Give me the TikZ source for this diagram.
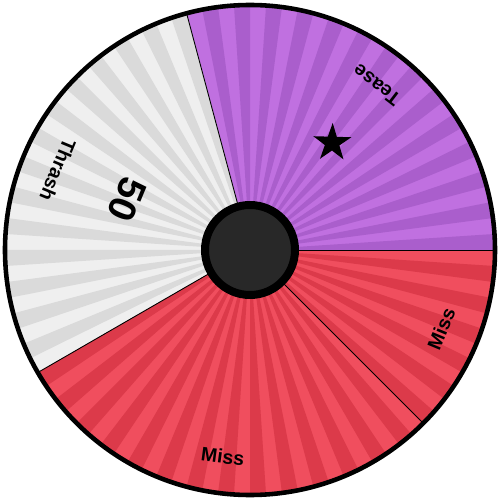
\documentclass[tikz,border=0pt]{standalone}
\usepackage{fontspec}
\setmainfont{Liberation Sans}
\usetikzlibrary{shapes.geometric}
\definecolor{purpL}{HTML}{C070E0}
\definecolor{purpD}{HTML}{AA5ECC}
\definecolor{redL}{HTML}{F04E5E}
\definecolor{redD}{HTML}{DC3A4A}
\definecolor{greyL}{HTML}{EFEFEF}
\definecolor{greyD}{HTML}{DADADA}
\definecolor{hubgrey}{HTML}{282828}
\begin{document}
\begin{tikzpicture}[x=0.02cm,y=0.02cm,
  lab/.style={font=\fontsize{11.1pt}{13pt}\selectfont\bfseries, inner sep=0pt, text=black},
  bignum/.style={font=\fontsize{22pt}{26pt}\selectfont\bfseries, inner sep=0pt, text=black},
  starnode/.style={star, star points=5, star point ratio=2.618, fill=black, inner sep=0pt, minimum size=0.8cm},
  divider/.style={line width=0.5pt, black}]
\fill[white] (-250,-250) rectangle (250,250);
\useasboundingbox (-250,-250) rectangle (250,250);
\def\R{245}
% sector base fills
\fill[purpL] (0,0) -- (0:\R) arc[start angle=0, end angle=105, radius=\R] -- cycle;
\fill[greyL] (0,0) -- (105:\R) arc[start angle=105, end angle=210, radius=\R] -- cycle;
\fill[redL] (0,0) -- (210:\R) arc[start angle=210, end angle=360, radius=\R] -- cycle;
% dark stripes
\foreach \k in {0,2,...,26}
  \fill[purpD] (0,0) -- ({\k*3.75}:\R) arc[start angle={\k*3.75}, delta angle=3.75, radius=\R] -- cycle;
\foreach \k in {28,30,...,54}
  \fill[greyD] (0,0) -- ({\k*3.75}:\R) arc[start angle={\k*3.75}, delta angle=3.75, radius=\R] -- cycle;
\foreach \k in {56,58,...,94}
  \fill[redD] (0,0) -- ({\k*3.75}:\R) arc[start angle={\k*3.75}, delta angle=3.75, radius=\R] -- cycle;
% dividers
\foreach \a in {0,105,210,315}
  \draw[divider] (0,0) -- (\a:\R);
% outer rim
\draw[line width=2.6pt] (0,0) circle[radius=245];
% hub
\draw[line width=4.54pt, fill=hubgrey] (0,0) circle[radius=45];
% labels
\node[lab, rotate=142.5] (tease) at (52.5:208) {Tease};
\node[lab, rotate=247.5] (thrash) at (157.5:208) {Thrash};
\node[lab, rotate=352.5] (missA) at (262.5:208) {Miss};
\node[lab, rotate=427.5] (missB) at (337.5:207) {Miss};
\node[bignum, rotate=247.5] (fifty) at (157.5:133) {50};
\node[starnode, rotate=142.5] (starmark) at (52.5:135) {};
\end{tikzpicture}
\end{document}
